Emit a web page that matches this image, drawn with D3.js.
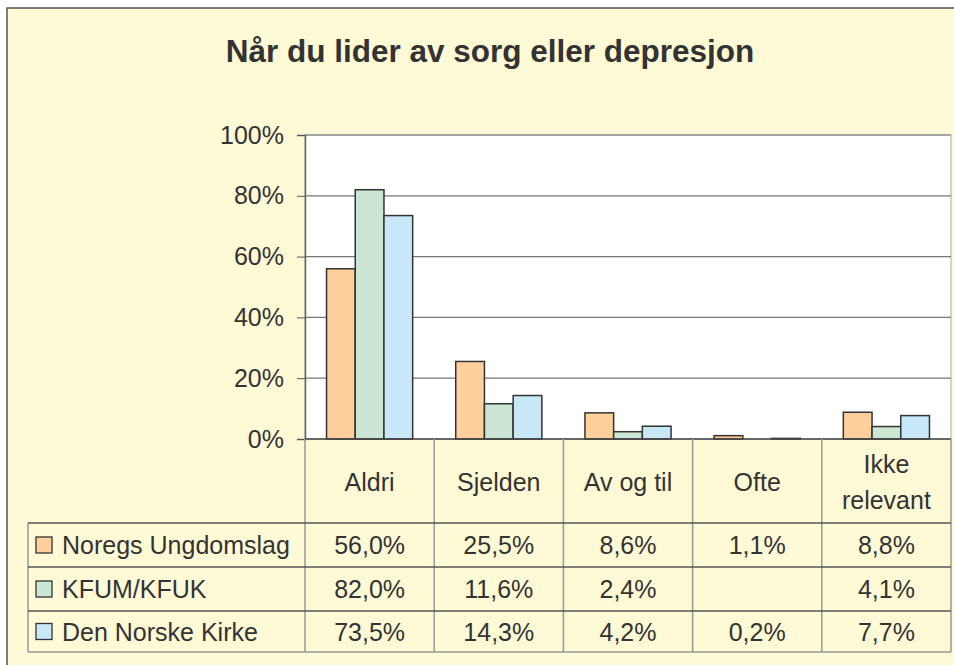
<!DOCTYPE html>
<html>
<head>
<meta charset="utf-8">
<script src="https://cdn.jsdelivr.net/npm/d3@7"></script>
<style>
  body { margin: 0; background: #fff; }
  svg text { font-family: "Liberation Sans", Arial, sans-serif; fill: #333; }
</style>
</head>
<body>
<svg id="chart"></svg>
<script>
// data
let categories = ["Aldri", "Sjelden", "Av og til", "Ofte", "Ikke relevant"];
let seriesNames = ["Noregs Ungdomslag", "KFUM/KFUK", "Den Norske Kirke"];
let noregsUngdomslag = [56.0, 25.5, 8.6, 1.1, 8.8];
let kfumKfuk = [82.0, 11.6, 2.4, null, 4.1];
let denNorskeKirke = [73.5, 14.3, 4.2, 0.2, 7.7];
let yTicks = [0, 20, 40, 60, 80, 100];
let colors = ["#ffcf9c", "#cce6d4", "#c8e8f8"];

let seriesValues = [noregsUngdomslag, kfumKfuk, denNorskeKirke];

let width = 954, height = 665;
let plotLeft = 305, plotRight = 951, plotTop = 135, plotBottom = 439;
let tableLeft = 28;
let rowLines = [523, 567, 611, 652];

let svg = d3.select("#chart")
    .attr("width", width)
    .attr("height", height);

// фон диаграммы
svg.append("rect")
    .attr("x", 7).attr("y", 8)
    .attr("width", width).attr("height", height)
    .attr("fill", "#fffad6")
    .attr("stroke", "#555")
    .attr("stroke-width", 1.5);

svg.append("text")
    .attr("x", 490).attr("y", 62)
    .attr("text-anchor", "middle")
    .attr("font-weight", "bold")
    .attr("font-size", "31.5px")
    .text("Når du lider av sorg eller depresjon");

// шкалы
let scaleX = d3.scaleBand()
    .domain(categories)
    .range([plotLeft, plotRight]);
let scaleInner = d3.scaleBand()
    .domain(seriesNames)
    .range([0, scaleX.bandwidth()])
    .paddingOuter(0.75)
    .paddingInner(0);
let scaleY = d3.scaleLinear()
    .domain([0, 100])
    .range([plotBottom, plotTop]);

// plot area
svg.append("rect")
    .attr("x", plotLeft).attr("y", plotTop)
    .attr("width", plotRight - plotLeft).attr("height", plotBottom - plotTop)
    .attr("fill", "#fff")
    .attr("stroke", "#aaa");

// grid
svg.append("g")
    .selectAll("line")
    .data(yTicks.slice(1))
    .enter().append("line")
    .attr("x1", plotLeft).attr("x2", plotRight)
    .attr("y1", d => scaleY(d)).attr("y2", d => scaleY(d))
    .attr("stroke", "#777")
    .attr("stroke-width", 1.2);

// ось OY
let axisY = d3.axisLeft(scaleY)
    .tickValues(yTicks)
    .tickSize(8)
    .tickPadding(13)
    .tickFormat(d => d + "%");
let gy = svg.append("g")
    .attr("transform", `translate(${plotLeft}, 0)`)
    .call(axisY);
gy.select(".domain").attr("stroke", "#666").attr("stroke-width", 1.5);
gy.selectAll(".tick line").attr("stroke", "#555");
gy.selectAll(".tick text")
    .attr("font-size", "25px")
    .attr("fill", "#333")
    .style("font-family", '"Liberation Sans", Arial, sans-serif');

// bars
let bars = [];
seriesNames.forEach((s, i) => {
    categories.forEach((c, j) => {
        if (seriesValues[i][j] != null) bars.push({ series: s, cat: c, value: seriesValues[i][j], idx: i });
    });
});
svg.append("g")
    .selectAll("rect")
    .data(bars)
    .enter().append("rect")
    .attr("x", d => scaleX(d.cat) + scaleInner(d.series))
    .attr("y", d => scaleY(d.value))
    .attr("width", scaleInner.bandwidth())
    .attr("height", d => plotBottom - scaleY(d.value))
    .attr("fill", d => colors[d.idx])
    .attr("stroke", "#333")
    .attr("stroke-width", 1.5);

// x axis baseline
svg.append("line")
    .attr("x1", plotLeft).attr("x2", plotRight)
    .attr("y1", plotBottom).attr("y2", plotBottom)
    .attr("stroke", "#444").attr("stroke-width", 1.5);

// таблица данных
let table = svg.append("g");
table.selectAll("line.v")
    .data(categories.map(c => scaleX(c)).concat([plotRight]))
    .enter().append("line")
    .attr("x1", d => d).attr("x2", d => d)
    .attr("y1", plotBottom).attr("y2", rowLines[3])
    .attr("stroke", "#999").attr("stroke-width", 1.5);
table.append("line")
    .attr("x1", tableLeft).attr("x2", tableLeft)
    .attr("y1", rowLines[0]).attr("y2", rowLines[3])
    .attr("stroke", "#999").attr("stroke-width", 1.5);
table.selectAll("line.h")
    .data(rowLines)
    .enter().append("line")
    .attr("x1", tableLeft).attr("x2", plotRight)
    .attr("y1", d => d).attr("y2", d => d)
    .attr("stroke", (d, i) => i == 3 ? "#999" : "#555").attr("stroke-width", 1.3);

// подписи категорий
categories.forEach(c => {
    let words = c === "Ikke relevant" ? ["Ikke", "relevant"] : [c];
    let t = table.append("text")
        .attr("text-anchor", "middle")
        .attr("font-size", "25px")
        .attr("x", scaleX(c) + scaleX.bandwidth() / 2);
    words.forEach((w, k) => {
        t.append("tspan")
            .attr("x", scaleX(c) + scaleX.bandwidth() / 2)
            .attr("y", 491 - (words.length - 1) * 18 + k * 36)
            .text(w);
    });
});

let locale = d3.formatLocale({ decimal: ",", thousands: " ", grouping: [3], currency: ["", ""] });
let fmt = locale.format(".1f");

seriesNames.forEach((s, i) => {
    let cy = (rowLines[i] + rowLines[i + 1]) / 2;
    table.append("rect")
        .attr("x", 36).attr("y", cy - 8)
        .attr("width", 16).attr("height", 16)
        .attr("fill", colors[i])
        .attr("stroke", "#333").attr("stroke-width", 1.3);
    table.append("text")
        .attr("x", 62).attr("y", cy + 9)
        .attr("font-size", "25px")
        .text(s);
    categories.forEach((c, j) => {
        let v = seriesValues[i][j];
        if (v == null) return;
        table.append("text")
            .attr("x", scaleX(c) + scaleX.bandwidth() / 2)
            .attr("y", cy + 9)
            .attr("text-anchor", "middle")
            .attr("font-size", "25px")
            .text(fmt(v) + "%");
    });
});
</script>
</body>
</html>
